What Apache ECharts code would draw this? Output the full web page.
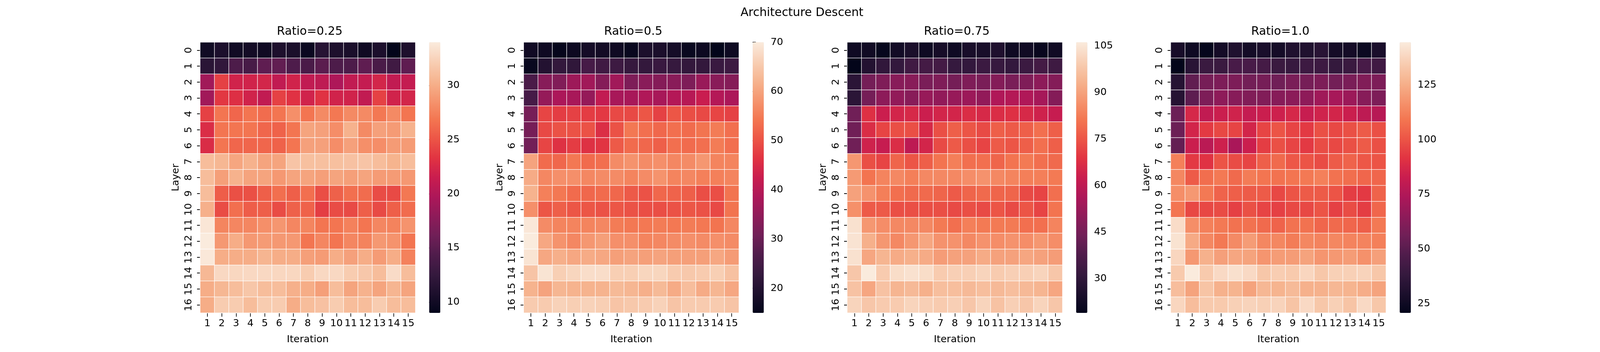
<!DOCTYPE html>
<html>
<head>
<meta charset="utf-8">
<script src="https://cdn.jsdelivr.net/npm/echarts@6/dist/echarts.min.js"></script>
<style>html,body{margin:0;padding:0;background:#fff;overflow:hidden;}#chart{position:absolute;left:0;top:0;}</style>
</head>
<body>
<div id="chart"></div>
<script>
const iterations = ['1','2','3','4','5','6','7','8','9','10','11','12','13','14','15'];
const layers = ['0','1','2','3','4','5','6','7','8','9','10','11','12','13','14','15','16'];
const titles = ['Ratio=0.25','Ratio=0.5','Ratio=0.75','Ratio=1.0'];
const mainTitle = 'Architecture Descent';
const cbTicks = [[10,15,20,25,30],[20,30,40,50,60,70],[30,45,60,75,90,105],[25,50,75,100,125]];

const r025 = [
[10.0,10.8,10.0,10.2,9.9,10.9,10.7,9.6,11.6,10.9,10.7,9.9,10.8,9.0,10.9],
[11.8,12.3,14.2,13.8,15.2,15.4,14.3,14.0,15.0,14.2,14.2,15.2,14.0,13.3,15.2],
[19.0,24.0,22.0,22.0,22.2,21.0,22.0,21.0,20.8,19.8,21.0,21.2,22.2,21.0,21.2],
[19.0,23.5,23.0,22.0,21.0,24.0,23.2,22.0,23.2,22.0,22.0,21.0,24.0,22.0,22.2],
[24.0,26.8,26.0,26.8,26.3,26.8,28.3,26.8,28.0,27.0,28.0,28.0,27.0,28.0,26.8],
[22.8,26.8,26.8,26.8,26.0,25.8,26.8,29.5,29.3,28.2,30.3,28.0,29.3,29.0,30.3],
[22.7,26.8,26.0,26.0,26.0,25.8,26.8,29.3,29.3,28.2,29.3,28.3,28.2,29.0,29.0],
[31.0,30.6,29.6,30.3,29.5,29.5,31.5,31.2,31.2,31.2,31.3,31.5,31.0,30.4,31.0],
[31.0,29.2,30.3,29.5,29.5,28.8,29.5,29.5,29.2,29.5,29.2,29.5,29.0,29.0,28.8],
[31.0,25.5,24.8,24.8,25.6,26.5,25.6,26.5,24.7,25.7,26.5,26.3,24.6,24.5,27.0],
[30.2,24.6,26.5,25.5,25.6,24.6,25.7,25.8,23.8,24.6,24.5,25.6,24.5,25.6,26.3],
[33.7,27.7,27.8,27.8,28.3,28.7,27.8,27.7,26.8,26.8,27.5,26.8,27.8,27.6,28.5],
[34.0,28.8,30.0,28.8,29.0,28.8,28.8,26.8,27.8,26.8,27.8,27.6,28.8,28.5,26.8],
[33.8,30.0,30.0,30.0,30.5,30.0,30.0,29.2,29.0,30.0,29.3,30.0,29.0,30.0,27.5],
[30.7,32.8,32.7,32.8,32.8,32.7,32.7,32.0,32.8,32.8,32.0,31.7,31.0,33.0,31.0],
[30.0,30.6,31.0,31.6,31.0,31.0,30.2,30.0,29.2,31.0,29.5,30.3,29.5,30.5,29.5],
[30.0,32.0,32.0,31.0,32.0,32.0,30.0,31.0,31.3,32.0,31.0,31.0,32.0,31.0,31.0]
];
const r050 = [
[17.2,17.0,15.5,16.5,17.8,17.5,17.0,16.0,19.0,19.0,18.0,16.0,16.5,15.0,16.8],
[16.0,20.0,22.5,22.0,25.5,24.5,24.0,23.0,22.5,23.5,23.0,22.5,22.5,23.5,24.0],
[26.0,33.7,33.0,36.5,37.0,33.5,37.0,32.5,34.0,33.5,34.0,32.5,36.0,34.0,33.5],
[25.5,35.5,38.5,38.0,35.5,41.5,38.0,38.0,39.0,38.0,39.5,40.0,42.5,39.5,38.5],
[31.5,48.5,47.5,48.0,47.5,47.0,49.0,49.0,50.5,48.0,50.5,49.5,49.0,48.5,48.0],
[31.5,49.0,50.0,50.0,50.0,45.5,50.0,54.5,53.5,52.5,53.5,53.0,54.0,55.0,53.5],
[31.0,48.5,46.0,47.5,46.0,46.5,51.0,53.0,52.5,51.5,53.5,53.0,53.5,55.0,53.5],
[60.0,53.0,52.5,54.5,53.0,53.5,57.0,58.0,57.0,57.5,56.5,57.0,58.5,56.0,56.0],
[61.0,56.5,57.5,57.5,56.5,57.0,57.0,56.0,57.0,58.0,56.0,56.5,55.5,55.5,56.0],
[62.0,55.5,54.5,53.0,52.5,53.0,52.5,51.0,50.0,52.5,52.0,51.5,49.5,49.5,54.0],
[57.5,50.5,51.5,50.5,50.5,50.0,50.5,50.0,49.5,49.5,50.0,50.5,50.0,49.0,54.0],
[69.5,57.0,56.0,56.0,56.0,56.5,55.0,54.5,54.5,55.0,54.5,55.0,54.5,54.0,56.5],
[70.0,60.5,58.0,56.5,58.5,59.5,57.5,57.5,56.0,56.5,57.0,57.5,57.0,57.5,57.0],
[69.0,60.5,61.5,60.5,61.0,60.5,59.5,60.0,59.5,60.0,59.5,59.5,59.5,60.5,59.0],
[64.5,69.0,66.0,67.0,68.0,68.0,66.0,66.0,67.0,67.0,65.5,65.0,65.5,66.0,64.0],
[62.0,60.0,62.5,62.0,62.0,62.0,63.0,62.5,61.5,63.0,61.0,63.5,61.0,62.5,60.5],
[65.5,65.5,66.5,66.0,66.5,66.0,64.5,65.0,65.5,66.5,64.5,65.5,65.5,65.5,64.5]
];
const r075 = [
[22.0,22.5,20.0,23.0,25.0,22.0,24.0,22.0,24.5,24.5,26.0,22.0,22.5,20.5,22.5],
[19.0,27.0,30.5,31.0,34.0,35.0,35.0,31.5,31.0,33.0,32.0,31.0,33.0,35.0,33.5],
[29.0,45.0,47.0,49.0,49.0,46.0,47.0,45.0,47.0,46.0,48.0,46.0,47.0,50.0,48.0],
[29.0,45.0,50.0,51.0,49.0,52.0,51.0,52.0,53.0,51.0,57.0,58.0,57.0,55.0,48.0],
[44.0,68.0,63.0,65.0,66.0,63.0,65.0,65.0,67.0,66.0,67.0,68.0,66.0,64.0,62.0],
[44.0,67.0,72.0,74.0,74.0,66.0,74.0,77.0,75.0,73.0,77.0,76.0,77.0,80.0,77.0],
[44.0,64.0,62.0,67.0,60.0,65.0,73.0,76.0,74.0,72.0,76.0,75.0,77.0,80.0,77.0],
[88.0,74.0,72.0,78.0,75.0,77.0,81.0,83.0,80.0,80.0,78.0,81.0,82.0,80.0,79.0],
[88.5,81.0,84.0,85.0,83.0,85.0,85.0,85.0,86.0,87.0,85.0,84.0,83.0,83.0,82.0],
[90.0,87.0,83.0,80.0,79.0,79.0,78.0,76.0,78.0,79.0,78.0,78.0,73.0,72.0,80.0],
[86.5,76.0,76.0,74.0,74.0,74.0,74.0,73.0,74.0,73.0,75.0,73.0,75.0,72.0,81.0],
[104.0,88.0,86.0,85.0,85.0,85.0,82.0,80.0,83.0,82.0,82.0,82.0,80.0,80.0,84.0],
[104.5,93.0,88.0,85.0,88.0,91.0,87.0,87.0,85.0,87.0,86.0,87.0,86.0,88.0,86.0],
[104.0,91.0,94.0,92.0,93.0,92.0,89.0,90.0,90.0,92.0,90.0,90.0,91.0,90.0,89.0],
[98.0,106.2,99.0,103.0,104.0,103.0,99.0,100.0,100.0,101.0,99.0,100.0,100.0,101.0,98.0],
[97.0,91.0,97.0,94.0,95.0,93.0,96.0,96.0,95.0,96.0,95.0,96.0,95.0,94.0,91.0],
[101.0,98.0,99.0,99.0,101.0,100.0,99.0,100.0,98.0,101.0,97.0,100.0,98.0,101.0,98.0]
];
const r100 = [
[28,25,21.5,27,31,27,29,27,31,31,34,27,27,24,29],
[20.7,34,40,40,45,45,44,40,39,41,41,38,40,45,42],
[33,52,58,60,60,57,58,56,59,58,60,57,59,61,60],
[33,51,60,65,63,61,61,63,64,65,70,72,69,63,60],
[55,87,80,83,85,81,83,84,87,82,85,86,83,79,77],
[55,86,93,97,96,86,96,100,96,93,99,97,99,102,99],
[53,83,78,84,73,83,94,99,96,93,98,97,99,102,99],
[112,93,91,100,98,96,103,106,101,100,98,102,104,101,100],
[114,102,107,110,106,111,109,108,109,110,112,108,107,105,105],
[116,119,110,104,103,102,102,97,100,102,102,100,94,93,104],
[109,97,97,98,95,99,96,95,97,97,100,95,98,94,105],
[140,116,112,110,108,108,106,104,108,108,105,106,105,103,110],
[142,124,114,110,115,120,114,114,111,114,113,114,113,113,112],
[138,119,126,121,123,122,118,120,120,122,118,119,120,117,121],
[134,144.6,134,139,141,139,133,135,134,138,133,136,136,137,133],
[130,122,132,126,127,122,128,127,129,126,126,128,127,125,122],
[138,130,134,134,136,137,136,137,132,139,133,136,132,139,133]
];
const allData = [r025, r050, r075, r100];

const rocket = ['#03051a','#1c0f2c','#35193e','#4f1c4b','#701f57','#8e1b59','#ad1759','#c91d4f','#e13342','#ec5546','#f37651','#f5956f','#f6b48f','#f8cfb5','#faebdd'];
const FONT = 'DejaVu Sans';

const W = window.innerWidth || 5000;
const H = window.innerHeight || 900;
const sx = W / 5000, sy = H / 900, sf = Math.sqrt(sx * sy);
const el = document.getElementById('chart');
el.style.width = W + 'px';
el.style.height = H + 'px';
const chart = echarts.init(el, null, {renderer: 'canvas', width: W, height: H});

const L0 = 625.6, STEP = 1011, GW = 672.4, GH = 692, TOP = 108;
const CB_OFF = 43, CB_W = 35;
const fs = 28 * sf, fsT = 33 * sf;

const grid = [], xAxis = [], yAxis = [], series = [], visualMap = [];
const title = [{
  text: mainTitle, left: 2500 * sx, top: 13 * sy, textAlign: 'center',
  textStyle: {fontFamily: FONT, fontSize: fsT, fontWeight: 'normal', color: '#000'}
}];

allData.forEach((mat, i) => {
  const L = L0 + STEP * i;
  const flat = [];
  mat.forEach((row, r) => row.forEach((v, c) => flat.push([c, r, v])));
  const vals = flat.map(d => d[2]);
  const vmin = Math.min(...vals), vmax = Math.max(...vals);

  title.push({
    text: titles[i], left: (L + GW / 2) * sx, top: 61 * sy, textAlign: 'center',
    textStyle: {fontFamily: FONT, fontSize: fsT, fontWeight: 'normal', color: '#000'}
  });

  grid.push({left: L * sx, top: TOP * sy, width: GW * sx, height: GH * sy, containLabel: false});
  grid.push({left: (L + GW + CB_OFF) * sx, top: TOP * sy, width: CB_W * sx, height: GH * sy, containLabel: false});

  xAxis.push({
    type: 'category', gridIndex: 2 * i, data: iterations, position: 'bottom',
    axisLine: {show: false}, splitLine: {show: false},
    axisTick: {show: true, alignWithLabel: true, length: 9.7 * sy, lineStyle: {color: '#000', width: 2 * sx}},
    axisLabel: {interval: 0, fontFamily: FONT, fontSize: fs, color: '#000', margin: 15 * sy},
    name: 'Iteration', nameLocation: 'middle', nameGap: 56 * sy,
    nameTextStyle: {fontFamily: FONT, fontSize: fs, color: '#000'}
  });
  yAxis.push({
    type: 'category', gridIndex: 2 * i, data: layers, inverse: true, position: 'left',
    axisLine: {show: false}, splitLine: {show: false},
    axisTick: {show: true, alignWithLabel: true, length: 9.7 * sx, lineStyle: {color: '#000', width: 2 * sy}},
    axisLabel: {interval: 0, rotate: 90, fontFamily: FONT, fontSize: fs, color: '#000', margin: 20 * sx},
    name: 'Layer', nameLocation: 'middle', nameGap: 60 * sx,
    nameTextStyle: {fontFamily: FONT, fontSize: fs, color: '#000'}
  });
  xAxis.push({type: 'value', gridIndex: 2 * i + 1, show: false, min: 0, max: 1});
  yAxis.push({
    type: 'value', gridIndex: 2 * i + 1, position: 'right', min: vmin, max: vmax,
    axisLine: {show: false}, splitLine: {show: false},
    axisTick: {show: true, length: 9.7 * sx, lineStyle: {color: '#000', width: 2 * sy}, customValues: cbTicks[i]},
    axisLabel: {fontFamily: FONT, fontSize: fs, color: '#000', margin: 21 * sx, customValues: cbTicks[i]}
  });

  series.push({
    type: 'heatmap', xAxisIndex: 2 * i, yAxisIndex: 2 * i, data: flat,
    itemStyle: {borderColor: '#fff', borderWidth: 1.4 * sf},
    emphasis: {disabled: true}, progressive: 0, animation: false
  });

  visualMap.push({
    type: 'continuous', seriesIndex: i, min: vmin, max: vmax,
    inRange: {color: rocket}, calculable: false, realtime: false,
    orient: 'vertical', left: (L + GW + CB_OFF) * sx, top: TOP * sy, padding: 0,
    itemWidth: CB_W * sx, itemHeight: GH * sy, text: null, showLabel: false,
    hoverLink: false
  });
});

chart.setOption({
  backgroundColor: '#fff',
  animation: false,
  title, grid, xAxis, yAxis, series, visualMap
});
</script>
</body>
</html>
